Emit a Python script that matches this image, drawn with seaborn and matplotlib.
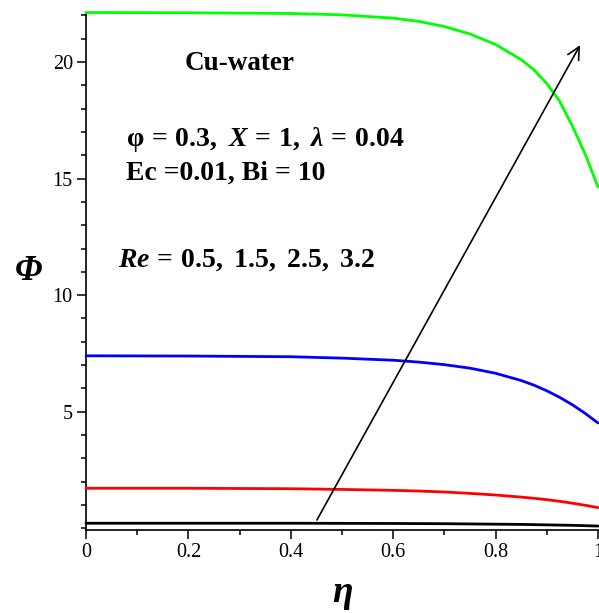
import numpy as np
import pandas as pd
import matplotlib
matplotlib.use('Agg')
import matplotlib.pyplot as plt
from matplotlib.ticker import MultipleLocator
import seaborn as sns

# values
eta = [0.0, 0.2, 0.4, 0.5, 0.6, 0.65, 0.7, 0.75, 0.8, 0.85, 0.875, 0.9, 0.925, 0.95, 0.975, 1.0]
re_labels = ['0.5', '1.5', '2.5', '3.2']
phi_re05 = [0.22, 0.22, 0.22, 0.215, 0.21, 0.205, 0.20, 0.19, 0.18, 0.17, 0.16, 0.15, 0.14, 0.13, 0.115, 0.10]
phi_re15 = [1.72, 1.72, 1.70, 1.67, 1.63, 1.60, 1.56, 1.50, 1.43, 1.34, 1.29, 1.23, 1.16, 1.08, 0.99, 0.89]
phi_re25 = [7.40, 7.39, 7.36, 7.30, 7.21, 7.13, 7.02, 6.87, 6.65, 6.34, 6.14, 5.90, 5.62, 5.30, 4.93, 4.52]
phi_re32 = [22.12, 22.11, 22.08, 22.02, 21.88, 21.74, 21.52, 21.20, 20.75, 20.10, 19.66, 19.08, 18.32,
            17.25, 16.05, 14.64]
arrow_start = (0.451, 0.36)
arrow_end = (0.965, 20.72)

df = pd.DataFrame({
    'eta': eta * 4,
    'phi': phi_re05 + phi_re15 + phi_re25 + phi_re32,
    'Re': sum([[r] * len(eta) for r in re_labels], []),
})

sns.set_style('ticks')
plt.rcParams['font.family'] = ['Liberation Serif', 'DejaVu Serif']
plt.rcParams['text.color'] = 'black'
plt.rcParams['xtick.color'] = 'black'
plt.rcParams['ytick.color'] = 'black'
plt.rcParams['axes.edgecolor'] = 'black'
plt.rcParams['mathtext.fontset'] = 'custom'
plt.rcParams['mathtext.rm'] = 'Liberation Serif:bold'
plt.rcParams['mathtext.bf'] = 'Liberation Serif:bold'
plt.rcParams['mathtext.it'] = 'Liberation Serif:italic:bold'

W, H = 599, 613
fig = plt.figure(figsize=(W / 100, H / 100), dpi=100)
ax = fig.add_axes([86 / W, 1 - 530 / H, (598 - 86) / W, (530 - 13) / H])

palette = {'0.5': '#000000', '1.5': '#ff0000', '2.5': '#0000ff', '3.2': '#00ff00'}
sns.lineplot(data=df, x='eta', y='phi', hue='Re', palette=palette, lw=2.0,
             legend=False, ax=ax, clip_on=False, zorder=3)

ax.set_xlim(0, 1)
ax.set_ylim(-0.07, 22.1)
ax.xaxis.set_minor_locator(MultipleLocator(0.1))
ax.yaxis.set_minor_locator(MultipleLocator(1))
ax.set_xticks([0, 0.2, 0.4, 0.6, 0.8, 1.0])
ax.set_xticklabels(['0', '0.2', '0.4', '0.6', '0.8', '1'])
ax.set_yticks([5, 10, 15, 20])
ax.tick_params(which='major', direction='out', length=6.5, width=1.1, labelsize=14.5, pad=3)
ax.tick_params(which='minor', direction='out', length=3.5, width=1.1)
sns.despine(ax=ax)
for s in ['left', 'bottom']:
    ax.spines[s].set_linewidth(1.2)
ax.set_xlabel('')
ax.set_ylabel('')

ax.annotate('', xy=arrow_end, xytext=arrow_start,
            arrowprops=dict(arrowstyle='->', lw=1.2, color='black', mutation_scale=22,
                            shrinkA=0, shrinkB=0))

def px(x, y):
    return x / W, 1 - y / H

fig.text(*px(240, 63), 'Cu-water', fontsize=19.5, fontweight='bold', ha='center', va='center')
fig.text(*px(126, 140), r'$\mathrm{\varphi}\,=\,0.3,\ X\,=\,1,\ \lambda\,=\,0.04$',
         fontsize=20, ha='left', va='center')
fig.text(*px(126, 173), 'Ec =0.01, Bi = 10', fontsize=20, fontweight='bold', ha='left', va='center')
fig.text(*px(118, 260), r'$Re\,=\,0.5,\ 1.5,\ 2.5,\ 3.2$', fontsize=20, ha='left', va='center')
fig.text(*px(28, 271), 'Φ', fontsize=25, fontweight='bold', fontstyle='italic', ha='center', va='center')
fig.text(*px(343, 592), 'η', fontsize=27, fontweight='bold', fontstyle='italic', ha='center', va='center')

plt.savefig('out.png', dpi=100)
